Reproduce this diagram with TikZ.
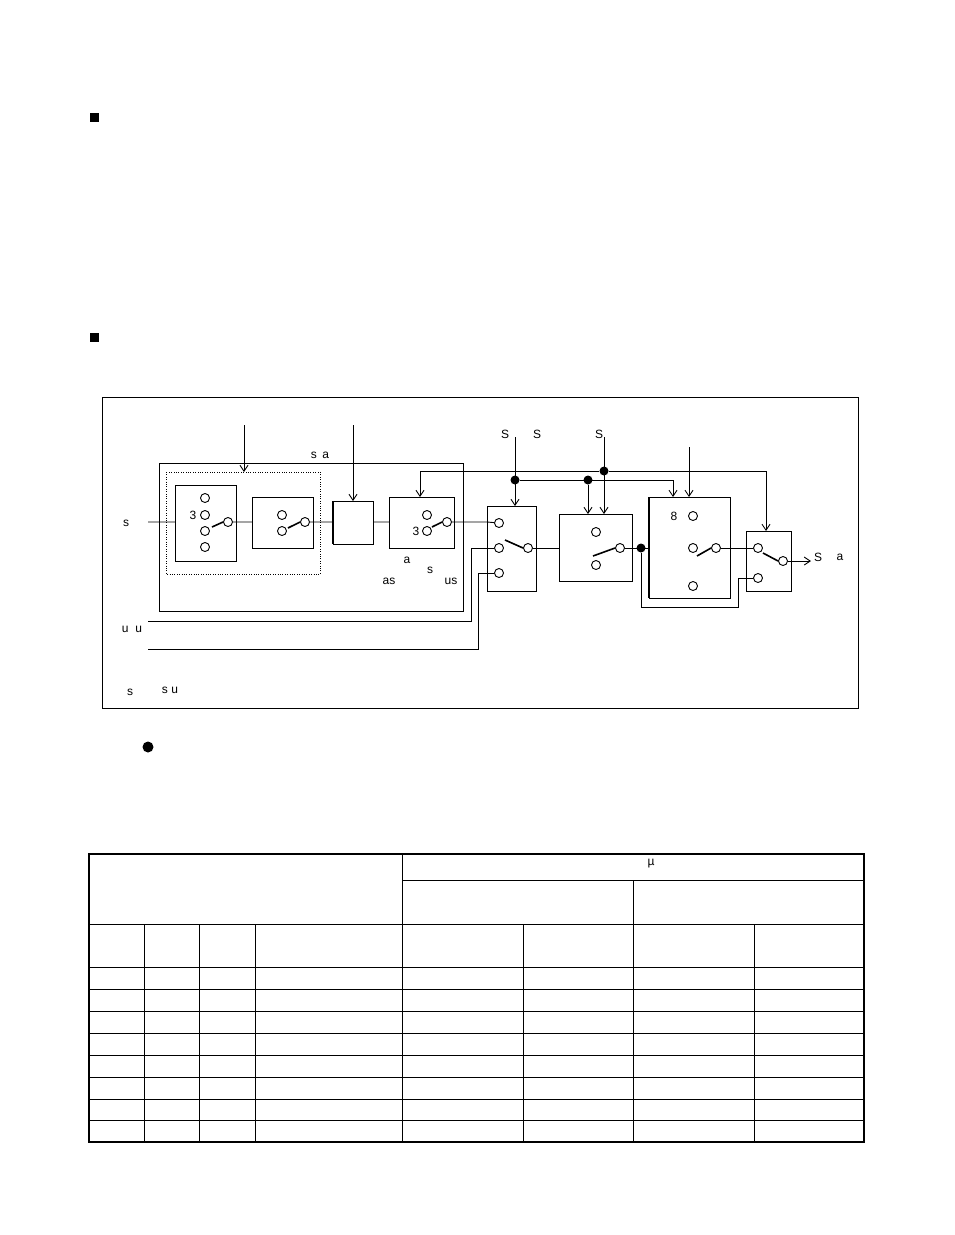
\documentclass[tikz,border=0pt]{standalone}
\usepackage{fontspec}
\setmainfont{Liberation Sans}
\usetikzlibrary{arrows.meta}
\tikzset{
  swbox/.style={draw, line width=1pt},
  pin/.style={draw, circle, inner sep=0pt, minimum size=9pt, line width=0.9pt},
  lever/.style={line width=1.6pt},
  dot/.style={fill, circle, inner sep=0pt, minimum size=9pt},
  lbl/.style={font=\fontsize{12}{14}\selectfont, inner sep=0pt},
  wire/.style={line width=0.9pt},
  arr/.style={wire, -{Straight Barb[length=6pt,width=8pt]}}
}
\begin{document}
\begin{tikzpicture}[x=1pt, y=-1pt]
      \useasboundingbox (0,0) rectangle (954,1235);
      \fill (89.5,112.5) rectangle +(9,9);
      \fill (89.5,332.5) rectangle +(9,9);

      % diagram frame
      \draw[line width=0.9pt] (102,397) rectangle (858,708);
      \draw[swbox] (159,463) rectangle (463,611);
      \draw[dotted] (166,472) rectangle (320,574);

      % switch boxes
      \draw[swbox] (175,485) rectangle (236,561);
      \draw[swbox] (252,497) rectangle (313,548);
      \draw[swbox] (333,501) rectangle (373,544);
      \draw[line width=1.7pt] (333,501) -- (333,544);
      \draw[swbox] (389,497) rectangle (454,548);
      \draw[swbox] (487,506) rectangle (536,591);
      \draw[swbox] (559,514) rectangle (632,581);
      \draw[swbox] (649,497) rectangle (730,598);
      \draw[line width=1.7pt] (649,497) -- (649,598);
      \draw[swbox] (746,531) rectangle (791,591);

      % contacts
      \foreach \y [count=\i] in {498,515,531,547} \node[pin] (a\i) at (205,\y) {};
      \node[pin] (ap) at (228,522) {};
      \node[lbl] at (193,515) {3};
      \node[pin] (b1) at (282,515) {};
      \node[pin] (b2) at (282,531) {};
      \node[pin] (bp) at (305,522) {};
      \node[pin] (d1) at (427,515) {};
      \node[pin] (d2) at (427,531) {};
      \node[pin] (dp) at (447,522) {};
      \node[lbl] at (416,531) {3};
      \foreach \y [count=\i] in {523,548,573} \node[pin] (e\i) at (499,\y) {};
      \node[pin] (ep) at (528,548) {};
      \node[pin] (f1) at (596,532) {};
      \node[pin] (f2) at (596,565) {};
      \node[pin] (fp) at (620,548) {};
      \foreach \y [count=\i] in {516,548,586} \node[pin] (g\i) at (693,\y) {};
      \node[pin] (gp) at (716,548) {};
      \node[lbl] at (674,516) {8};
      \node[pin] (h1) at (758,548) {};
      \node[pin] (h2) at (758,578) {};
      \node[pin] (hp) at (783,561) {};

      % levers
      \draw[lever] (212,527) -- (ap.west);
      \draw[lever] (288,528) -- (bp.west);
      \draw[lever] (432,527) -- (dp.west);
      \draw[lever] (505,540) -- (ep.west);
      \draw[lever] (593,556) -- (fp.west);
      \draw[lever] (697,556) -- (gp.west);
      \draw[lever] (763,553) -- (hp.west);

      % signal path
      \draw[wire] (148,522) -- (175,522) (ap) -- (252,522) (bp) -- (333,522)
        (373,522) -- (389,522) (dp) -- (487,522) -- (e1);
      \draw[wire] (ep) -- (559,548) (fp) -- (649,548) (gp) -- (h1);
      \node[dot] (j3) at (641,548) {};
      \draw[wire] (j3) |- (738,607) |- (h2);
      \draw[wire] (148,621) -- (471,621) |- (e2);
      \draw[wire] (148,649) -- (478,649) |- (e3);
      \coordinate (out) at (811,561);
      \draw[arr] (hp) -- (out);

      % control lines
      \draw[arr] (244,425) -- (244,472);
      \draw[arr] (353,425) -- (353,501);
      \draw[arr] (689,447) -- (689,497);
      \node[dot] (j1) at (515,480) {};
      \node[dot] (j2) at (588,480) {};
      \node[dot] (j4) at (604,471) {};
      \draw[arr] (j4) -- (420,471) -- (420,497);
      \draw[arr] (j4) -- (766,471) -- (766,531);
      \draw[arr] (515,437) -- (515,506);
      \draw[arr] (604,437) -- (604,514);
      \draw[arr] (j2) -- (588,514);
      \draw[arr] (j1) -- (673,480) -- (673,497);

      % labels
      \node[lbl] at (320,455) {s\,\ a};
      \node[lbl] at (126,523) {s};
      \node[lbl] at (407,560) {a};
      \node[lbl] at (430,570) {s};
      \node[lbl] at (389,581) {as};
      \node[lbl] at (451,581) {us};
      \node[lbl] at (132,629) {u\ \ u};
      \node[lbl] at (130,692) {s};
      \node[lbl] at (170,690) {s\ u};
      \node[lbl] at (505,434) {S};
      \node[lbl] at (537,434) {S};
      \node[lbl] at (599,434) {S};
      \node[lbl] at (818,557) {S};
      \node[lbl] at (840,557) {a};

      \fill (148,747) circle (5.5);

      % table
      \draw[line width=1.4pt] (89,854) rectangle (864,1142);
      \draw[wire] (402,854) -- (402,1142);
      \draw[wire] (402,880) -- (864,880);
      \draw[wire] (633,880) -- (633,1142);
      \draw[wire] (89,924) -- (864,924);
      \foreach \x in {144,199,255,523,754} \draw[wire] (\x,924) -- (\x,1142);
      \foreach \y in {967,989,1011,1033,1055,1077,1099,1120} \draw[wire] (89,\y) -- (864,\y);
      \node[lbl] at (651,864) {µ};
\end{tikzpicture}
\end{document}
